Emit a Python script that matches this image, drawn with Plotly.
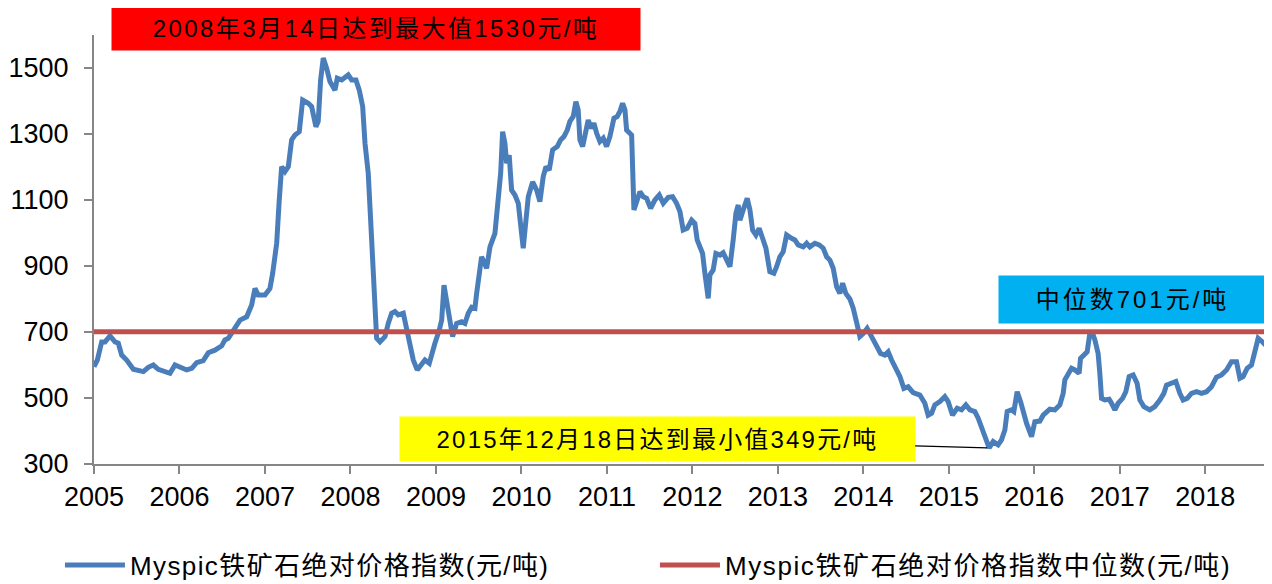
import plotly.graph_objects as go

# Myspic iron ore absolute price index, weekly-ish readings (x in fractional years)
t = [2005.000, 2005.039, 2005.090, 2005.129, 2005.187, 2005.246, 2005.284, 2005.324, 2005.382, 2005.460,
     2005.577, 2005.635, 2005.694, 2005.752, 2005.889, 2005.947, 2006.084, 2006.143, 2006.201, 2006.278,
     2006.337, 2006.415, 2006.494, 2006.532, 2006.571, 2006.629, 2006.708, 2006.786, 2006.844, 2006.883,
     2006.922, 2007.000, 2007.058, 2007.090, 2007.117, 2007.137, 2007.167, 2007.195, 2007.234, 2007.273,
     2007.312, 2007.351, 2007.401, 2007.441, 2007.506, 2007.546, 2007.596, 2007.623, 2007.651, 2007.682,
     2007.722, 2007.760, 2007.819, 2007.846, 2007.897, 2007.936, 2007.974, 2008.014, 2008.064, 2008.103,
     2008.143, 2008.170, 2008.208, 2008.248, 2008.287, 2008.306, 2008.345, 2008.404, 2008.442, 2008.482,
     2008.520, 2008.559, 2008.618, 2008.657, 2008.696, 2008.735, 2008.781, 2008.833, 2008.871, 2008.922,
     2008.950, 2008.988, 2009.039, 2009.067, 2009.094, 2009.125, 2009.164, 2009.195, 2009.242, 2009.301,
     2009.339, 2009.378, 2009.418, 2009.456, 2009.476, 2009.534, 2009.593, 2009.632, 2009.690, 2009.729,
     2009.757, 2009.780, 2009.807, 2009.827, 2009.857, 2009.885, 2009.924, 2009.963, 2009.991, 2010.021,
     2010.053, 2010.080, 2010.131, 2010.178, 2010.216, 2010.255, 2010.287, 2010.325, 2010.365, 2010.419,
     2010.458, 2010.497, 2010.536, 2010.567, 2010.606, 2010.637, 2010.664, 2010.684, 2010.716, 2010.743,
     2010.781, 2010.821, 2010.848, 2010.880, 2010.918, 2010.957, 2010.996, 2011.035, 2011.082, 2011.120,
     2011.152, 2011.183, 2011.211, 2011.230, 2011.289, 2011.316, 2011.347, 2011.386, 2011.425, 2011.464,
     2011.511, 2011.561, 2011.612, 2011.659, 2011.717, 2011.768, 2011.815, 2011.854, 2011.892, 2011.939,
     2011.991, 2012.029, 2012.056, 2012.088, 2012.119, 2012.146, 2012.185, 2012.205, 2012.243, 2012.275,
     2012.322, 2012.360, 2012.400, 2012.439, 2012.477, 2012.509, 2012.536, 2012.556, 2012.594, 2012.641,
     2012.673, 2012.704, 2012.743, 2012.781, 2012.821, 2012.860, 2012.906, 2012.953, 2012.985, 2013.023,
     2013.062, 2013.102, 2013.160, 2013.199, 2013.237, 2013.296, 2013.336, 2013.374, 2013.433, 2013.483,
     2013.530, 2013.570, 2013.608, 2013.647, 2013.687, 2013.725, 2013.757, 2013.795, 2013.842, 2013.881,
     2013.920, 2013.959, 2013.998, 2014.044, 2014.096, 2014.154, 2014.201, 2014.251, 2014.290, 2014.330,
     2014.368, 2014.427, 2014.474, 2014.524, 2014.582, 2014.661, 2014.719, 2014.758, 2014.798, 2014.836,
     2014.895, 2014.953, 2014.992, 2015.043, 2015.097, 2015.148, 2015.199, 2015.246, 2015.304, 2015.343,
     2015.394, 2015.441, 2015.471, 2015.518, 2015.576, 2015.616, 2015.655, 2015.682, 2015.733, 2015.760,
     2015.799, 2015.839, 2015.869, 2015.909, 2015.967, 2016.006, 2016.064, 2016.103, 2016.181, 2016.240,
     2016.298, 2016.337, 2016.357, 2016.395, 2016.435, 2016.474, 2016.524, 2016.540, 2016.579, 2016.618,
     2016.649, 2016.681, 2016.708, 2016.746, 2016.766, 2016.786, 2016.825, 2016.875, 2016.903, 2016.942,
     2016.980, 2017.032, 2017.070, 2017.109, 2017.156, 2017.202, 2017.234, 2017.281, 2017.351, 2017.409,
     2017.468, 2017.515, 2017.546, 2017.605, 2017.655, 2017.702, 2017.740, 2017.787, 2017.838, 2017.897,
     2017.955, 2018.014, 2018.072, 2018.131, 2018.189, 2018.248, 2018.306, 2018.365, 2018.404, 2018.442,
     2018.489, 2018.540, 2018.579, 2018.618, 2018.669, 2018.708, 2018.754]

price = [595, 615, 670, 670, 688, 670, 666, 630, 615, 587,
         580, 593, 600, 587, 575, 600, 585, 590, 607, 613,
         637, 645, 658, 676, 681, 706, 736, 746, 782, 832,
         812, 812, 832, 878, 948, 969, 1100, 1201, 1186, 1201,
         1282, 1297, 1307, 1403, 1393, 1383, 1322, 1338, 1464, 1530,
         1499, 1459, 1433, 1469, 1464, 1474, 1479, 1464, 1464, 1433,
         1383, 1272, 1181, 979, 777, 681, 670, 686, 726, 757,
         762, 752, 757, 706, 655, 615, 585, 605, 615, 605,
         635, 666, 706, 736, 842, 787, 716, 686, 726, 731,
         726, 757, 775, 772, 817, 928, 893, 958, 999, 1090,
         1181, 1307, 1272, 1211, 1236, 1130, 1115, 1090, 1019, 954,
         1039, 1110, 1155, 1130, 1095, 1171, 1201, 1191, 1252, 1262,
         1282, 1292, 1312, 1338, 1353, 1398, 1373, 1282, 1262, 1302,
         1342, 1317, 1333, 1302, 1277, 1287, 1262, 1292, 1348, 1353,
         1368, 1393, 1373, 1312, 1297, 1070, 1090, 1125, 1110, 1105,
         1075, 1100, 1115, 1090, 1108, 1110, 1090, 1065, 1009, 1014,
         1039, 1029, 979, 958, 938, 878, 802, 873, 888, 938,
         933, 940, 918, 898, 979, 1060, 1085, 1039, 1070, 1105,
         1070, 1009, 994, 1014, 984, 954, 883, 878, 898, 928,
         943, 994, 984, 979, 964, 958, 969, 958, 969, 964,
         954, 928, 918, 893, 837, 817, 848, 817, 800, 772,
         730, 686, 695, 711, 686, 655, 635, 630, 640, 615,
         595, 565, 529, 534, 516, 509, 484, 448, 454, 479,
         489, 504, 489, 448, 469, 464, 479, 464, 459, 439,
         403, 363, 349, 368, 358, 373, 403, 459, 464, 459,
         519, 489, 454, 423, 383, 428, 430, 448, 466, 464,
         479, 514, 555, 570, 590, 585, 575, 620, 630, 640,
         696, 696, 676, 635, 575, 499, 494, 496, 484, 464,
         484, 499, 519, 565, 570, 545, 494, 474, 464, 474,
         494, 514, 539, 545, 550, 514, 494, 499, 514, 519,
         514, 519, 534, 563, 570, 585, 610, 610, 560, 565,
         590, 600, 650, 681, 670, 660, 670]

median_value = 701
years = list(range(2005, 2019))

name_price = "Myspic铁矿石绝对价格指数(元/吨)"
name_median = "Myspic铁矿石绝对价格指数中位数(元/吨)"
label_max = "2008年3月14日达到最大值1530元/吨"
label_median = "中位数701元/吨"
label_min = "2015年12月18日达到最小值349元/吨"

FONT = "Liberation Sans, Arial, Noto Sans CJK SC, sans-serif"
x_end = 2018.78


def spaced(s, px):
    return '<span style="letter-spacing:%spx">%s</span>' % (px, s)


fig = go.Figure()
fig.add_trace(go.Scatter(x=t, y=price, mode="lines", name=spaced(name_price, 1.4),
                         line=dict(color="#4A7EBB", width=5), legend="legend"))
fig.add_trace(go.Scatter(x=[t[0], x_end], y=[median_value, median_value], mode="lines",
                         name=spaced(name_median, 1.6), line=dict(color="#C0504D", width=5),
                         legend="legend2"))

# min point for the callout arrow
i_min = price.index(min(price))

leg_common = dict(orientation="h", yanchor="middle", xanchor="left", y=-0.2354,
                  font=dict(size=26), bgcolor="rgba(0,0,0,0)", itemwidth=60)

# page body has an 8px margin, so the figure is 8px smaller and margins shifted
fig.update_layout(
    width=1264, height=576,
    margin=dict(l=86, r=0, t=27, b=120, autoexpand=False),
    plot_bgcolor="white", paper_bgcolor="white",
    font=dict(family=FONT, size=27, color="black"),
    showlegend=True,
    legend=dict(x=-0.0289, **leg_common),
    legend2=dict(x=0.4762, **leg_common),
    xaxis=dict(range=[2005, x_end], tickvals=years, ticktext=[str(y) for y in years],
               showgrid=False, zeroline=False, showline=True, linecolor="#868686", linewidth=2,
               ticks="outside", ticklen=8, tickcolor="#868686", tickwidth=1.5,
               ticklabelstandoff=0, tickfont=dict(size=27)),
    yaxis=dict(range=[300, 1600], tick0=300, dtick=200,
               showgrid=False, zeroline=False, showline=True, linecolor="#868686", linewidth=2,
               ticks="outside", ticklen=8, tickcolor="#868686", tickwidth=1.5,
               ticklabelstandoff=10, tickfont=dict(size=27)),
    annotations=[
        dict(xref="paper", yref="paper", x=0.2394, y=1.0163, xanchor="center", yanchor="middle",
             text=spaced(label_max, 2.4), showarrow=False, bgcolor="#FF0000",
             width=528, height=44, borderpad=0, font=dict(size=24)),
        dict(xref="paper", yref="paper", x=0.8816, y=0.3834, xanchor="center", yanchor="middle",
             text=spaced(label_median, 3), showarrow=False, bgcolor="#00B0F0",
             width=267, height=47, borderpad=0, font=dict(size=24)),
        dict(x=t[i_min], y=price[i_min], xref="x", yref="y", ax=-332, ay=-9,
             text=spaced(label_min, 2.2), showarrow=True, arrowhead=0,
             arrowwidth=1.2, arrowcolor="black", standoff=2, bgcolor="#FFFF00",
             width=515, height=44, borderpad=0, font=dict(size=24)),
    ],
)

fig.write_html("out.html")
